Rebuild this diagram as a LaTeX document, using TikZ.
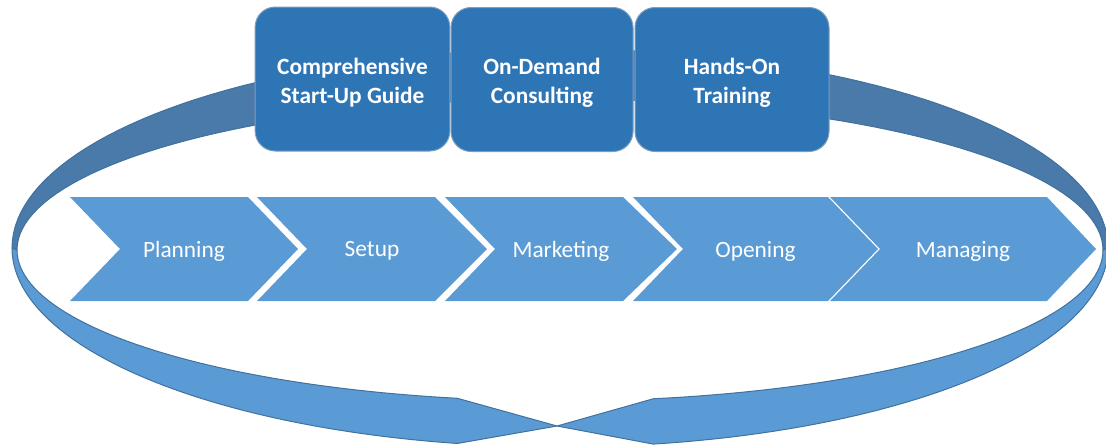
\documentclass[tikz,border=0pt]{standalone}
\usepackage{fontspec}
\setmainfont{Carlito}
\usetikzlibrary{positioning}

\definecolor{frontblue}{HTML}{5B9BD5}
\definecolor{backblue}{HTML}{4A7AAA}
\definecolor{edgeblue}{HTML}{41719C}
\definecolor{serviceblue}{HTML}{2E75B6}
\definecolor{serviceedge}{HTML}{7F9DBF}

\begin{document}
\begin{tikzpicture}[x=0.75pt, y=-0.75pt,
  every node/.style={font=\fontsize{17.5}{21.4}\selectfont, text=white},
  band/.style={draw=edgeblue, line width=0.75pt, line join=round},
  chev/.style={fill=frontblue},
  service/.style={draw=serviceedge, line width=0.75pt, fill=serviceblue, rounded corners=15pt,
    minimum height=108pt, align=center, text height=36pt, text depth=0pt,
    font=\fontsize{17.5}{21.4}\selectfont\bfseries}]
  \useasboundingbox (0,0) rectangle (1106,444);

  % Ribbon, back half (inside face)
  \draw[band, fill=backblue] plot[domain=180:360, samples=90] ({560+548*cos(\x)}, {248+199*sin(\x)})
    -- plot[domain=360:180, samples=90] ({560+543*cos(\x)}, {250+151*sin(\x)}) -- cycle;

  % Ribbon, front half with the twist
  \coordinate (twist) at (557,426);
  \draw[band, fill=frontblue] plot[domain=180:100.8, samples=50] ({560+548*cos(\x)}, {248+199*sin(\x)})
    -- (twist) -- plot[domain=100.9:180, samples=50] ({560+543*cos(\x)}, {250+151*sin(\x)}) -- cycle;
  \draw[band, fill=frontblue] plot[domain=0:80.2, samples=50] ({560+548*cos(\x)}, {248+199*sin(\x)})
    -- (twist) -- plot[domain=80.1:0, samples=50] ({560+543*cos(\x)}, {250+151*sin(\x)}) -- cycle;

  % Process chevrons
  \foreach \lft/\rgt/\tip/\lbl [count=\i] in {70/248/298/Planning, 257/435/487/Setup,
      445/623/677/Marketing, 633/828/878/Opening, 830/1047/1096/Managing} {
    \fill[chev] (\lft,197) -- (\rgt,197) -- (\tip,249) -- (\rgt,301) -- (\lft,301) -- (\lft+50,249) -- cycle;
    \node (step\i) at ({(\lft+\tip)/2},251) {\lbl};
  }

  % Services on top
  \node[service, minimum width=146pt] (guide) at (352.5,79) {Comprehensive\\Start-Up Guide};
  \node[service, minimum width=136.5pt] (consult) at (542,79.5) {On-Demand\\Consulting};
  \node[service, minimum width=145.5pt] (train) at (732,79.5) {Hands-On\\Training};
\end{tikzpicture}
\end{document}
